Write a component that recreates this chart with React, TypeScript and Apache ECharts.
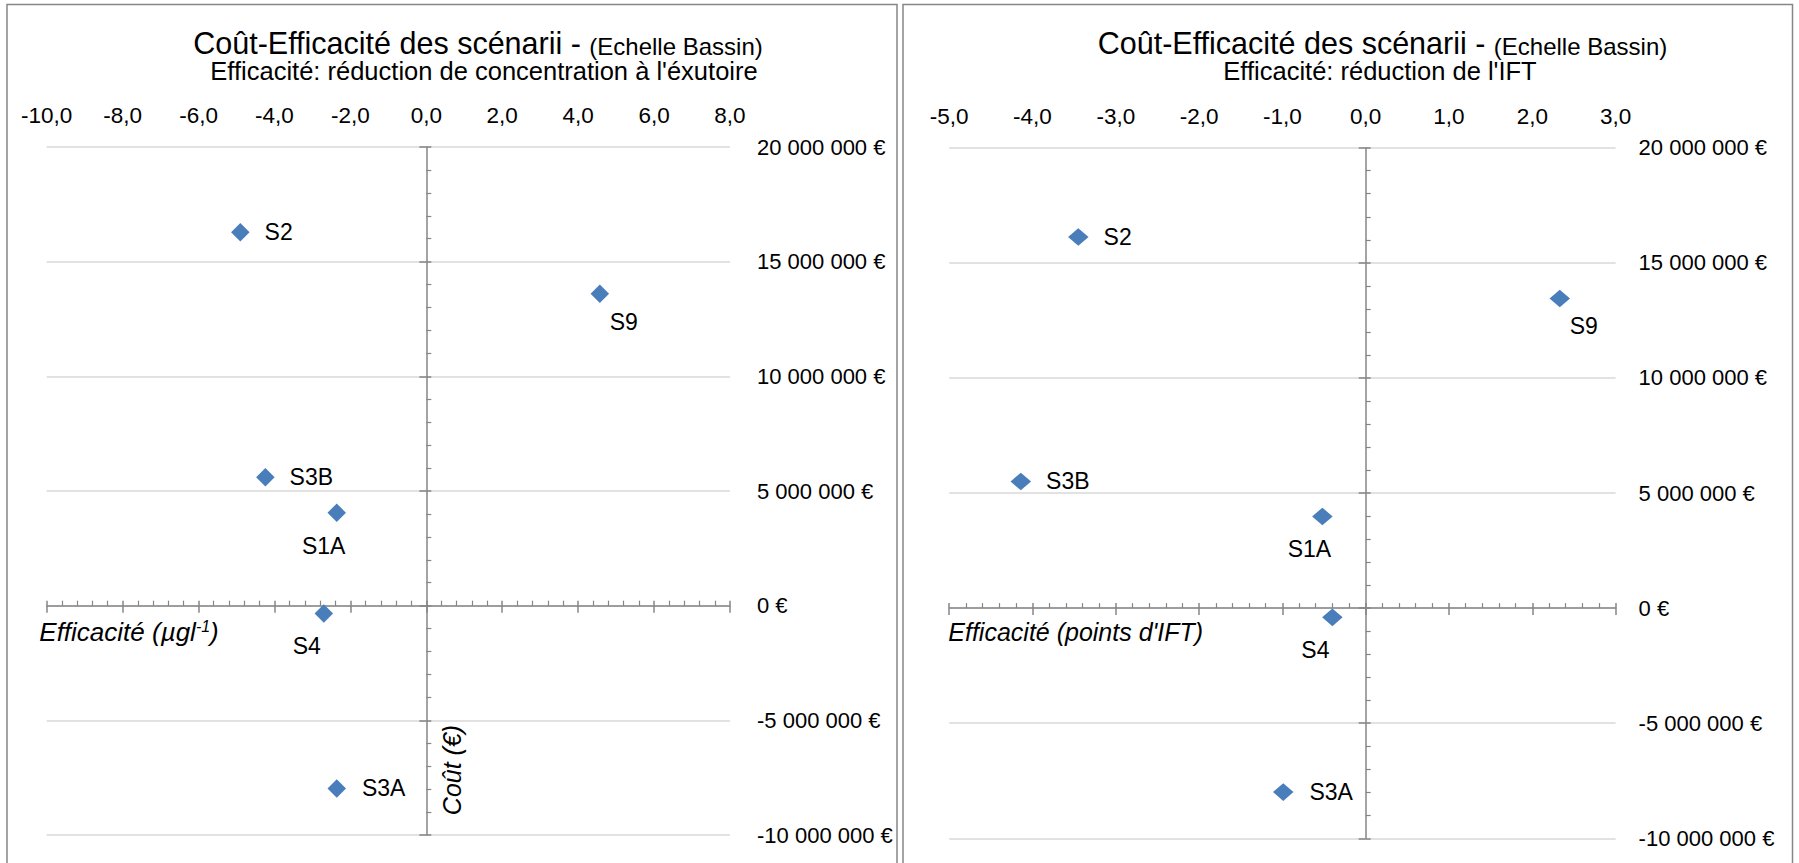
import React, { useEffect, useRef } from 'react';
import * as echarts from 'echarts';

// ---------- data ----------
const scenarios = ['S2', 'S9', 'S3B', 'S1A', 'S4', 'S3A'];
// left chart: efficacy = reduction of concentration at outlet (µg/l)
const concEfficacy = [-4.9, 4.57, -4.24, -2.36, -2.7, -2.36];
const concCost = [16280000, 13600000, 5600000, 4050000, -340000, -7970000];
// right chart: efficacy = reduction of IFT points
const iftEfficacy = [-3.45, 2.33, -4.14, -0.52, -0.4, -0.99];
const iftCost = [16120000, 13450000, 5500000, 3980000, -400000, -7990000];

const costTicks = { min: -10000000, max: 20000000, interval: 5000000 };
const concTicks = { min: -10, max: 8, interval: 2 };
const iftTicks = { min: -5, max: 3, interval: 1 };

const titleMain = 'Coût-Efficacité des scénarii - ';
const titleScale = '(Echelle Bassin)';
const subtitleConc = "Efficacité: réduction de concentration à l'éxutoire";
const subtitleIft = "Efficacité: réduction de l'IFT";

// ---------- styles ----------
const FONT = "'Liberation Sans', Arial, Helvetica, sans-serif";
const AXIS = '#868686';
const GRIDLINE = '#d9d9d9';
const MARK = '#4a7ebb';

const labelPlacement: Record<string, any> = {
  S2: { position: 'right', distance: 15 },
  S9: { position: 'inside', offset: [24, 28] },
  S3B: { position: 'right', distance: 15 },
  S1A: { position: 'inside', offset: [-13, 33] },
  S4: { position: 'inside', offset: [-17, 33] },
  S3A: { position: 'right', distance: 16 },
};

const fmtCost = (v: number) => {
  const r = Math.round(v);
  const s = Math.abs(r).toString().replace(/\B(?=(\d{3})+(?!\d))/g, ' ');
  return (r < 0 ? '-' : '') + s + ' €';
};
const fmtEff = (v: number) => (Math.round(v * 10) / 10).toFixed(1).replace('.', ',');

type Panel = {
  left: number;
  width: number;
  border: { x: number; y: number; w: number };
  grid: { left: number; top: number; width: number; height: number };
  xTicks: { min: number; max: number; interval: number };
  xs: number[];
  ys: number[];
  title: { x: number; y: number };
  subtitle: { text: string; x: number; y: number };
  xName: { rich: string; x: number; y: number; size: number };
  costName?: { x: number; y: number };
  yLabelMargin: number;
  symbolSize: number[];
};

const panels: Panel[] = [
  {
    left: 0,
    width: 900,
    border: { x: 7, y: 4.5, w: 890 },
    grid: { left: 46.7, top: 147, width: 683.3, height: 688 },
    xTicks: concTicks,
    xs: concEfficacy,
    ys: concCost,
    title: { x: 478, y: 43 },
    subtitle: { text: subtitleConc, x: 484, y: 71 },
    xName: { rich: '{a|Efficacité (µgl}{s|-1}{a|)}', x: 39.3, y: 631.7, size: 26 },
    costName: { x: 451.7, y: 770 },
    yLabelMargin: 27,
    symbolSize: [18.5, 18.5],
  },
  {
    left: 900,
    width: 899,
    border: { x: 3, y: 4.5, w: 889.5 },
    grid: { left: 49.2, top: 147.7, width: 666.4, height: 690.6 },
    xTicks: iftTicks,
    xs: iftEfficacy,
    ys: iftCost,
    title: { x: 482.5, y: 43 },
    subtitle: { text: subtitleIft, x: 480, y: 71 },
    xName: { rich: "{a|Efficacité (points d'IFT)}", x: 48.3, y: 631.7, size: 25 },
    yLabelMargin: 23,
    symbolSize: [20.5, 17.7],
  },
];

function buildOption(p: Panel) {
  const xr = { type: 'value', min: p.xTicks.min, max: p.xTicks.max, interval: p.xTicks.interval };
  const yr = { type: 'value', min: costTicks.min, max: costTicks.max, interval: costTicks.interval };
  const tickStyle = { color: AXIS, width: 1.5 };

  const graphic: any[] = [
    {
      type: 'rect',
      shape: { x: p.border.x, y: p.border.y, width: p.border.w, height: 900 },
      style: { fill: 'none', stroke: AXIS, lineWidth: 1.5 },
      silent: true,
    },
    {
      type: 'text',
      x: p.title.x,
      y: p.title.y,
      style: {
        text: `{a|${titleMain}}{b|${titleScale}}`,
        textAlign: 'center',
        textVerticalAlign: 'middle',
        rich: {
          a: { fontSize: 30.5, lineHeight: 30.5, fontFamily: FONT, fill: '#000', verticalAlign: 'bottom' },
          b: { fontSize: 24, lineHeight: 24, fontFamily: FONT, fill: '#000', verticalAlign: 'bottom' },
        },
      },
    },
    {
      type: 'text',
      x: p.subtitle.x,
      y: p.subtitle.y,
      style: {
        text: p.subtitle.text,
        textAlign: 'center',
        textVerticalAlign: 'middle',
        fontSize: 25.5,
        fontFamily: FONT,
        fill: '#000',
      },
    },
    {
      type: 'text',
      x: p.xName.x,
      y: p.xName.y,
      style: {
        text: p.xName.rich,
        textAlign: 'left',
        textVerticalAlign: 'middle',
        rich: {
          a: { fontSize: p.xName.size, lineHeight: 27, fontStyle: 'italic', fontFamily: FONT, fill: '#000' },
          s: { fontSize: 16, lineHeight: 16, fontStyle: 'italic', fontFamily: FONT, fill: '#000', verticalAlign: 'top' },
        },
      },
    },
  ];
  if (p.costName) {
    graphic.push({
      type: 'text',
      x: p.costName.x,
      y: p.costName.y,
      rotation: Math.PI / 2,
      style: {
        text: 'Coût (€)',
        textAlign: 'center',
        textVerticalAlign: 'middle',
        fontSize: 25,
        fontStyle: 'italic',
        fontFamily: FONT,
        fill: '#000',
      },
    });
  }

  return {
    animation: false,
    backgroundColor: '#ffffff',
    graphic,
    grid: { ...p.grid, containLabel: false, outerBoundsMode: 'none' },
    xAxis: [
      {
        ...xr,
        position: 'bottom',
        axisLine: { show: true, onZero: true, onZeroAxisIndex: 0, lineStyle: tickStyle },
        axisTick: { show: true, inside: true, length: 5, lineStyle: tickStyle },
        minorTick: { show: true, splitNumber: 5, length: 5, lineStyle: { color: AXIS, width: 1.2 } },
        axisLabel: { show: false },
        splitLine: { show: false },
        minorSplitLine: { show: false },
      },
      {
        ...xr,
        position: 'bottom',
        axisLine: { show: false, onZero: true, onZeroAxisIndex: 0 },
        axisTick: { show: true, inside: false, length: 7, lineStyle: tickStyle },
        axisLabel: { show: false },
        splitLine: { show: false },
      },
      {
        ...xr,
        position: 'top',
        axisLine: { show: false, onZero: false },
        axisTick: { show: false },
        axisLabel: { show: true, margin: 20, formatter: fmtEff, color: '#000', fontSize: 22.5, fontFamily: FONT },
        splitLine: { show: false },
      },
    ],
    yAxis: [
      {
        ...yr,
        position: 'left',
        axisLine: { show: true, onZero: true, onZeroAxisIndex: 0, lineStyle: tickStyle },
        axisTick: { show: true, inside: true, length: 5, lineStyle: tickStyle },
        minorTick: { show: true, splitNumber: 5, length: 5, lineStyle: { color: AXIS, width: 1.2 } },
        axisLabel: { show: false },
        splitLine: { show: true, lineStyle: { color: GRIDLINE, width: 1.5 } },
        minorSplitLine: { show: false },
      },
      {
        ...yr,
        position: 'left',
        axisLine: { show: false, onZero: true, onZeroAxisIndex: 0 },
        axisTick: { show: true, inside: false, length: 7, lineStyle: tickStyle },
        axisLabel: { show: false },
        splitLine: { show: false },
      },
      {
        ...yr,
        position: 'right',
        axisLine: { show: false, onZero: false },
        axisTick: { show: false },
        axisLabel: {
          show: true,
          margin: p.yLabelMargin,
          align: 'left',
          formatter: fmtCost,
          color: '#000',
          fontSize: 22,
          fontFamily: FONT,
        },
        splitLine: { show: false },
      },
    ],
    series: [
      {
        type: 'scatter',
        xAxisIndex: 0,
        yAxisIndex: 0,
        symbol: 'diamond',
        symbolSize: p.symbolSize,
        itemStyle: { color: MARK, opacity: 1 },
        label: { show: true, formatter: '{b}', color: '#000', fontSize: 23, fontFamily: FONT },
        data: scenarios.map((name, i) => ({
          name,
          value: [p.xs[i], p.ys[i]],
          label: { ...labelPlacement[name] },
        })),
      },
    ],
  };
}

function ChartPanel({ panel }: { panel: Panel }) {
  const ref = useRef<HTMLDivElement>(null);
  useEffect(() => {
    if (!ref.current) return;
    const chart = echarts.init(ref.current, undefined, { renderer: 'svg' });
    chart.setOption(buildOption(panel) as any);
    return () => chart.dispose();
  }, [panel]);
  return (
    <div
      ref={ref}
      style={{ position: 'absolute', left: panel.left, top: 0, width: panel.width, height: 863 }}
    />
  );
}

export default function App() {
  return (
    <div
      style={{
        position: 'fixed',
        left: 0,
        top: 0,
        width: 1799,
        height: 863,
        background: '#ffffff',
        overflow: 'hidden',
      }}
    >
      {panels.map((p, i) => (
        <ChartPanel key={i} panel={p} />
      ))}
    </div>
  );
}
